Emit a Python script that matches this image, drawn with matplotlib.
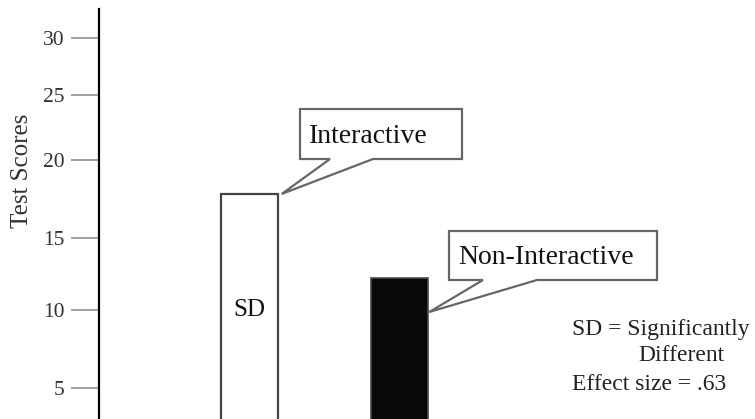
import numpy as np
import matplotlib
matplotlib.use("Agg")
import matplotlib.pyplot as plt
from matplotlib.patches import Polygon
from matplotlib.transforms import IdentityTransform

# ---- data ----
groups = ["Interactive", "Non-Interactive"]
scores = [17.8, 12.2]
tick_values = [5, 10, 15, 20, 25, 30]
tick_labels = ["5", "10", "15", "20", "25", "30"]
bar_colors = ["white", "#080808"]
ylabel = "Test Scores"
bar_mark = "SD"
notes = ["SD = Significantly", "Different", "Effect size = .63"]

W, H = 755, 419
DPI = 100
plt.rcParams["font.family"] = ["Liberation Serif", "DejaVu Serif"]

# non-uniform axis as drawn in the reference (value -> pixel row)
scale_vals = np.array([0, 5, 10, 15, 20, 25, 30, 35], dtype=float)
scale_pix = np.array([466, 388, 310, 238, 160, 95, 38, -19], dtype=float)
scale_t = -scale_pix


def fwd(v):
    return np.interp(v, scale_vals, scale_t)


def inv(t):
    return np.interp(t, scale_t, scale_vals)


fig = plt.figure(figsize=(W / DPI, H / DPI), dpi=DPI)
ax = fig.add_axes([99 / W, 0, (W - 99) / W, (H - 9) / H])
ax.set_yscale("function", functions=(fwd, inv))
ax.set_ylim(3.0, 32.5)
ax.set_xlim(-0.997, 3.36)

x = np.arange(len(groups))
width = 0.38
ax.bar(x[0], scores[0], width=width, color=bar_colors[0], edgecolor="#444444",
       linewidth=1.6, zorder=2)
ax.bar(x[1], scores[1], width=width, color=bar_colors[1], edgecolor="#4a4a4a",
       linewidth=1.2, zorder=2)

ax.text(x[0], 10, bar_mark, ha="center", va="center", fontsize=18, color="#111111")

for s in ["top", "right", "bottom"]:
    ax.spines[s].set_visible(False)
ax.spines["left"].set_linewidth(1.6)
ax.spines["left"].set_color("black")
ax.set_xticks([])
ax.set_yticks(tick_values)
ax.set_yticklabels(tick_labels)
ax.yaxis.set_minor_locator(matplotlib.ticker.NullLocator())
ax.tick_params(axis="y", length=20, width=1.3, color="#999999", pad=5,
               labelsize=15.5, labelcolor="#333333")

fig.text(22 / W, 1 - 171 / H, ylabel, rotation=90, ha="center", va="center",
         fontsize=18, color="#333333")


def callout(box, tail_x, apex_disp, text, tx, ty):
    # box in image px (x0, y0, x1, y1), y downward
    x0, y0, x1, y1 = box
    disp = [(x0, H - y0), (x1, H - y0), (x1, H - y1), (tail_x[1], H - y1),
            apex_disp, (tail_x[0], H - y1), (x0, H - y1)]
    poly = Polygon(disp, closed=True, facecolor="white", edgecolor="#666666",
                   linewidth=1.6, transform=IdentityTransform(), zorder=5)
    fig.add_artist(poly)
    fig.text(tx / W, 1 - ty / H, text, ha="left", va="center", fontsize=20,
             color="#111111", zorder=6)


fig.canvas.draw()
apex1 = ax.transData.transform((x[0] + width / 2, scores[0]))
apex1 = (apex1[0] + 4, apex1[1])
apex2 = ax.transData.transform((x[1] + width / 2, scores[1]))
apex2 = (apex2[0] + 1, apex2[1] - 34)

callout((300, 109, 462, 159), (330, 373), apex1, groups[0], 309, 136)
callout((449, 231, 657, 280), (483, 537), apex2, groups[1], 458, 257)

fig.text(572 / W, 1 - 329 / H, notes[0], ha="left", va="center", fontsize=17,
         color="#222222")
fig.text(681 / W, 1 - 355 / H, notes[1], ha="center", va="center", fontsize=17,
         color="#222222")
fig.text(572 / W, 1 - 384 / H, notes[2], ha="left", va="center", fontsize=17,
         color="#222222")

fig.savefig("out.png", dpi=DPI)
